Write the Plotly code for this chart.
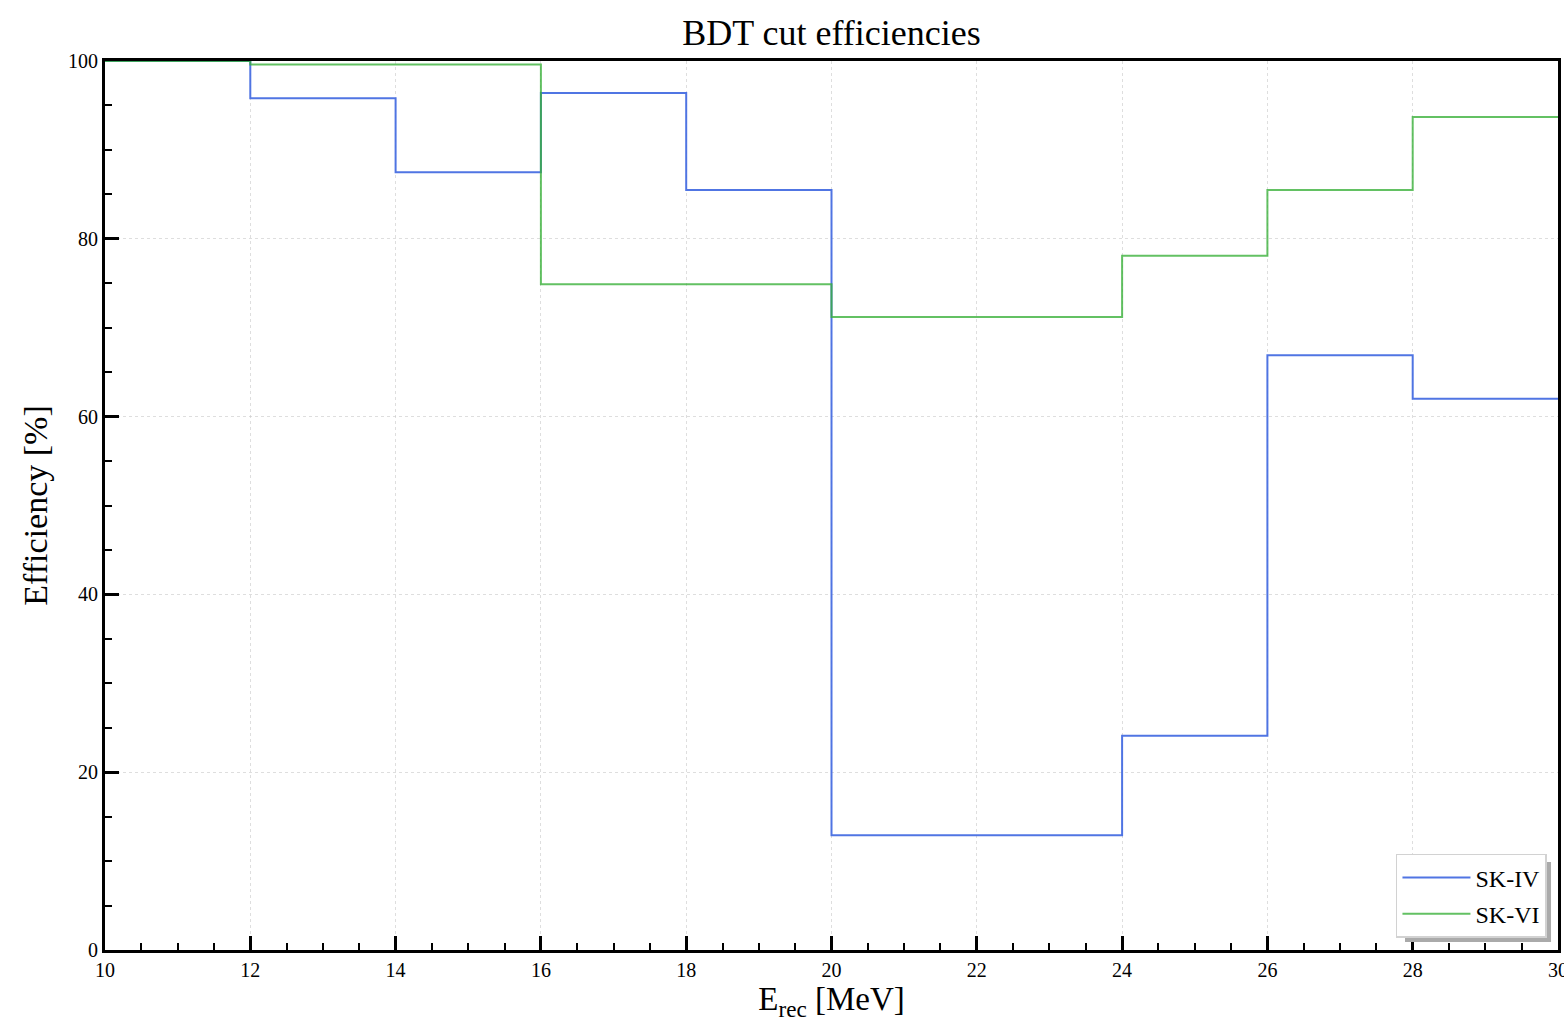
import plotly.graph_objects as go

# Energy bin edges [MeV] and per-bin BDT cut efficiencies [%]
bin_edges = [10, 12, 14, 16, 18, 20, 22, 24, 26, 28, 30]
sk4_eff = [100.0, 95.8, 87.5, 96.4, 85.5, 12.9, 12.9, 24.1, 66.9, 62.0]
sk6_eff = [100.0, 99.6, 99.6, 74.9, 74.9, 71.2, 71.2, 78.1, 85.5, 93.7]

x_ticks = [10, 12, 14, 16, 18, 20, 22, 24, 26, 28, 30]
y_ticks = [0, 20, 40, 60, 80, 100]

FONT = "Liberation Serif"


def step_y(vals):
    # repeat the last bin value so the step spans to the final edge
    return vals + [vals[-1]]


fig = go.Figure()
fig.add_trace(go.Scatter(
    x=bin_edges, y=step_y(sk4_eff), mode="lines", line_shape="hv",
    name="SK-IV", legendgroup="sk4", line=dict(color="rgba(65,105,225,0.92)", width=2),
))
fig.add_trace(go.Scatter(
    x=bin_edges, y=step_y(sk6_eff), mode="lines", line_shape="hv",
    name="SK-VI", legendgroup="sk6", line=dict(color="rgba(55,175,55,0.78)", width=2),
))

axis_common = dict(
    showline=True, linecolor="black", linewidth=3, mirror=True,
    ticks="inside", ticklen=14, tickwidth=2.5, tickcolor="black",
    showgrid=True, gridcolor="rgba(200,200,200,0.6)", gridwidth=1, griddash="dot",
    zeroline=False, automargin=False, ticklabeloverflow="allow",
    tickfont=dict(family=FONT, size=20, color="black"),
)

fig.update_xaxes(
    range=[10, 30], tickvals=x_ticks, ticktext=[str(v) for v in x_ticks],
    minor=dict(ticks="inside", dtick=0.5, ticklen=7, tickwidth=1.5, tickcolor="black", showgrid=False),
    title=dict(text="E<sub>rec</sub> [MeV]", font=dict(family=FONT, size=33, color="black"), standoff=4),
    **axis_common,
)
fig.update_yaxes(
    range=[0, 100], tickvals=y_ticks, ticktext=[str(v) for v in y_ticks],
    minor=dict(ticks="inside", dtick=5, ticklen=7, tickwidth=1.5, tickcolor="black", showgrid=False),
    title=dict(text="Efficiency [%]", font=dict(family=FONT, size=34, color="black"), standoff=11),
    **axis_common,
)

# drop shadow behind the legend box
fig.add_shape(
    type="rect", xref="paper", yref="paper",
    x0=0.8947, x1=0.9952, y0=0.0090, y1=0.0990,
    fillcolor="rgb(170,170,170)", line=dict(width=0), layer="above",
)

fig.update_layout(
    width=1564, height=1026,
    margin=dict(l=105, r=6, t=61, b=76),
    paper_bgcolor="white", plot_bgcolor="white",
    title=dict(text="BDT cut efficiencies", x=0.5, xref="paper", xanchor="center",
               y=0.968, yanchor="middle",
               font=dict(family=FONT, size=36, color="black")),
    font=dict(family=FONT, color="black"),
    legend=dict(
        x=0.9924, y=0.0135, xanchor="right", yanchor="bottom",
        bgcolor="white", bordercolor="rgb(210,210,210)", borderwidth=1.5,
        font=dict(family=FONT, size=24, color="black"),
        tracegroupgap=2, itemwidth=68,
    ),
    showlegend=True,
)

fig.write_html("out.html")
